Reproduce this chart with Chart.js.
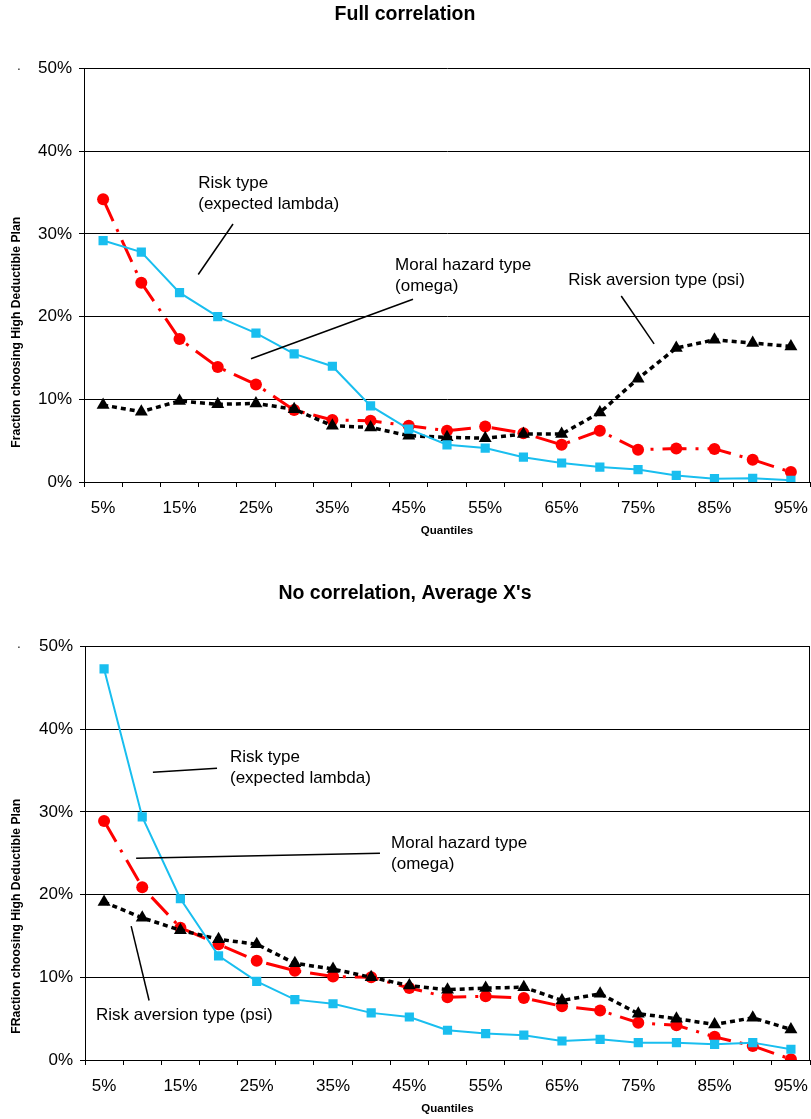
<!DOCTYPE html>
<html>
<head>
<meta charset="utf-8">
<script src="https://cdn.jsdelivr.net/npm/chart.js@4/dist/chart.umd.min.js"></script>
<style>
  html, body { margin: 0; padding: 0; background: #fff; }
  canvas { display: block; }
</style>
</head>
<body>
<canvas id="fullChart" width="811" height="560"></canvas>
<canvas id="noCorrChart" width="811" height="559"></canvas>
<script>
/* global Chart */

const quantiles = ['5%', '10%', '15%', '20%', '25%', '30%', '35%', '40%', '45%', '50%',
  '55%', '60%', '65%', '70%', '75%', '80%', '85%', '90%', '95%'];
const yTicks = [0, 10, 20, 30, 40, 50];

// Full correlation (values in %)
const fullRisk = [29.2, 27.8, 22.9, 20.0, 18.0, 15.5, 14.0, 9.2, 6.4, 4.5,
  4.1, 3.0, 2.3, 1.8, 1.5, 0.8, 0.4, 0.45, 0.2];
const fullMoral = [34.2, 24.1, 17.3, 13.9, 11.8, 8.7, 7.5, 7.4, 6.8, 6.2,
  6.7, 5.9, 4.5, 6.2, 3.9, 4.05, 4.0, 2.7, 1.2];
const fullAversion = [9.3, 8.5, 9.8, 9.4, 9.5, 8.8, 6.8, 6.6, 5.6, 5.4,
  5.3, 5.8, 5.8, 8.4, 12.5, 16.2, 17.2, 16.8, 16.4];

// No correlation, average X's (values in %)
const noCorrRisk = [47.3, 29.4, 19.5, 12.6, 9.5, 7.3, 6.8, 5.7, 5.2, 3.6,
  3.2, 3.0, 2.3, 2.5, 2.1, 2.1, 1.9, 2.1, 1.3];
const noCorrMoral = [28.9, 20.9, 16.0, 14.0, 12.0, 10.8, 10.1, 10.0, 8.7, 7.6,
  7.7, 7.5, 6.5, 6.0, 4.5, 4.2, 2.8, 1.7, 0.1];
const noCorrAversion = [19.1, 17.2, 15.7, 14.6, 14.0, 11.7, 11.0, 10.0, 9.0, 8.5,
  8.7, 8.8, 7.2, 8.0, 5.6, 5.0, 4.3, 5.1, 3.7];

const FONT = '"Liberation Sans", Arial, Helvetica, sans-serif';
const BLUE = '#19BEEF';
const RED = '#FF0000';

/* Labels with leader lines, placed in data space (category index, %) */
const fullNotes = {
  texts: [
    { x: 2.49, y: 36.1, lines: ['Risk type', '(expected lambda)'] },
    { x: 7.64, y: 26.2, lines: ['Moral hazard type', '(omega)'] },
    { x: 12.17, y: 24.4, lines: ['Risk aversion type (psi)'] },
  ],
  lines: [
    [3.40, 31.2, 2.49, 25.1],
    [8.11, 22.1, 3.87, 14.9],
    [13.56, 22.5, 14.42, 16.7],
  ],
  yTitle: 'Fraction choosing High Deductible Plan',
  yTitleShift: 57,
};

const noCorrNotes = {
  texts: [
    { x: 3.30, y: 36.6, lines: ['Risk type', '(expected lambda)'] },
    { x: 7.52, y: 26.2, lines: ['Moral hazard type', '(omega)'] },
    { x: -0.21, y: 5.4, lines: ['Risk aversion type (psi)'] },
  ],
  lines: [
    [1.28, 34.8, 2.96, 35.3],
    [0.84, 24.4, 7.23, 25.0],
    [0.71, 16.2, 1.18, 7.2],
  ],
  yTitle: 'FRaction choosing High Deductible Plan',
  yTitleShift: 63,
};

const notesPlugin = {
  id: 'notes',
  beforeDatasetsDraw(chart) {
    const { ctx, chartArea } = chart;
    ctx.save();
    ctx.strokeStyle = '#000';
    ctx.lineWidth = 1;
    ctx.beginPath();
    ctx.moveTo(Math.round(chartArea.right) - 0.5, chartArea.top);
    ctx.lineTo(Math.round(chartArea.right) - 0.5, chartArea.bottom);
    ctx.stroke();
    ctx.restore();
  },
  afterDatasetsDraw(chart, args, opts) {
    const { ctx, chartArea } = chart;
    const { x, y } = chart.scales;
    ctx.save();
    ctx.strokeStyle = '#000';
    ctx.lineWidth = 1.5;
    opts.lines.forEach(([x1, y1, x2, y2]) => {
      ctx.beginPath();
      ctx.moveTo(x.getPixelForValue(x1), y.getPixelForValue(y1));
      ctx.lineTo(x.getPixelForValue(x2), y.getPixelForValue(y2));
      ctx.stroke();
    });

    ctx.fillStyle = '#000';
    ctx.font = `17px ${FONT}`;
    ctx.textBaseline = 'middle';
    ctx.textAlign = 'left';
    opts.texts.forEach((t) => {
      t.lines.forEach((line, i) => {
        ctx.fillText(line, x.getPixelForValue(t.x), y.getPixelForValue(t.y) + i * 21);
      });
    });

    // small stray dot left of the top tick
    ctx.font = `12px ${FONT}`;
    ctx.textAlign = 'center';
    ctx.fillText('.', 19, chartArea.top - 2);

    // rotated y axis title
    ctx.translate(17, (chartArea.top + chartArea.bottom) / 2 + opts.yTitleShift);
    ctx.rotate(-Math.PI / 2);
    ctx.font = `bold 12.2px ${FONT}`;
    ctx.fillText(opts.yTitle, 0, 0);
    ctx.restore();
  },
};

function buildChart(canvasId, title, titlePad, series, notes, axisWidth, bottomPad) {
  const config = {
    type: 'line',
    data: {
      labels: quantiles,
      datasets: [
        {
          label: 'Risk type (expected lambda)',
          data: series[0],
          borderColor: BLUE,
          backgroundColor: BLUE,
          borderWidth: 2,
          pointStyle: 'rect',
          pointRadius: 6.5,
          pointBorderWidth: 0,
        },
        {
          label: 'Risk aversion type (psi)',
          data: series[2],
          borderColor: '#000',
          backgroundColor: '#000',
          borderWidth: 3.5,
          borderDash: [5, 4],
          pointStyle: 'triangle',
          pointRadius: 7.5,
          pointBorderWidth: 0,
        },
        {
          label: 'Moral hazard type (omega)',
          data: series[1],
          borderColor: RED,
          backgroundColor: RED,
          borderWidth: 3,
          borderDash: [24, 9, 3, 9],
          pointStyle: 'circle',
          pointRadius: 6,
          pointBorderWidth: 0,
        },
      ],
    },
    options: {
      responsive: false,
      animation: false,
      layout: {
        autoPadding: false,
        padding: { left: 0, right: 1, top: 0, bottom: bottomPad },
      },
      elements: { line: { tension: 0 } },
      plugins: {
        legend: { display: false },
        tooltip: { enabled: false },
        title: {
          display: true,
          text: title,
          color: '#000',
          font: { family: FONT, size: 19.5, weight: 'bold', lineHeight: 1.2 },
          padding: titlePad,
        },
        notes,
      },
      scales: {
        x: {
          type: 'category',
          offset: true,
          grid: {
            offset: true,
            drawOnChartArea: false,
            drawTicks: true,
            tickLength: 5,
            color: '#000',
          },
          border: { color: '#000', width: 1 },
          ticks: {
            autoSkip: false,
            maxRotation: 0,
            padding: 11,
            color: '#000',
            font: { family: FONT, size: 17 },
            callback(value, index) {
              return index % 2 === 0 ? quantiles[index] : '';
            },
          },
          title: {
            display: true,
            text: 'Quantiles',
            color: '#000',
            font: { family: FONT, size: 11.5, weight: 'bold', lineHeight: 1.2 },
            padding: 0,
          },
          afterFit(scale) {
            scale.height = 55.3;
            scale.paddingLeft = 0;
            scale.paddingRight = 0;
          },
        },
        y: {
          min: 0,
          max: 50,
          afterBuildTicks(scale) {
            scale.ticks = yTicks.map((v) => ({ value: v }));
          },
          grid: { color: '#000', lineWidth: 1, tickLength: 5 },
          border: { color: '#000', width: 1 },
          ticks: {
            padding: 7,
            color: '#000',
            font: { family: FONT, size: 17 },
            callback: (v) => `${v}%`,
          },
          afterFit(scale) {
            scale.width = axisWidth;
          },
        },
      },
    },
    plugins: [notesPlugin],
  };

  return new Chart(document.getElementById(canvasId), config);
}

buildChart('fullChart', 'Full correlation', { top: 2.6, bottom: 42.6 },
  [fullRisk, fullMoral, fullAversion], fullNotes, 84, 22.7);
buildChart('noCorrChart', "No correlation, Average X's", { top: 21.6, bottom: 41.6 },
  [noCorrRisk, noCorrMoral, noCorrAversion], noCorrNotes, 85, 3.7);
</script>
</body>
</html>
